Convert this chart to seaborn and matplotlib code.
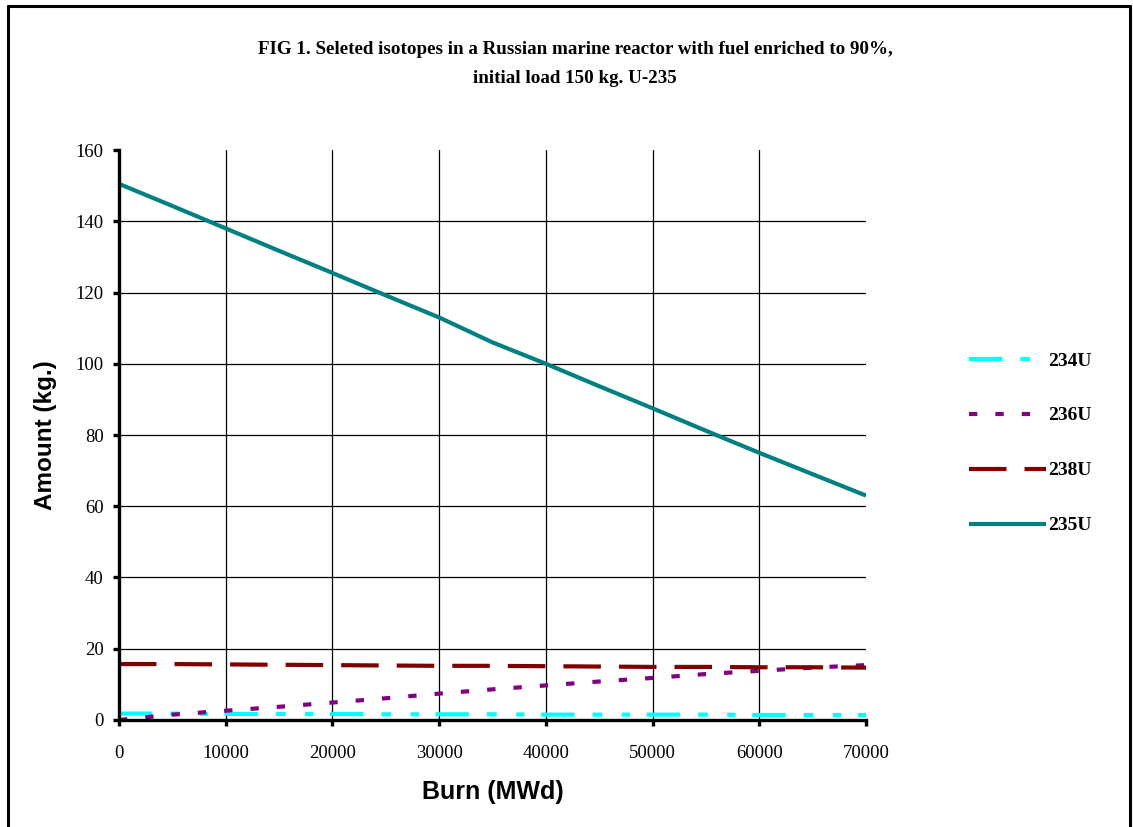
import matplotlib
matplotlib.use('Agg')
import matplotlib.pyplot as plt
from matplotlib.lines import Line2D
import pandas as pd
import seaborn as sns

# burn-up steps (MWd) and isotope amounts (kg)
burn = [0, 5000, 10000, 15000, 20000, 25000, 30000, 35000,
        40000, 45000, 50000, 55000, 60000, 65000, 70000]
u234 = [1.8, 1.8, 1.7, 1.7, 1.7, 1.6, 1.6, 1.6, 1.5, 1.5, 1.5, 1.5, 1.4, 1.4, 1.4]
u236 = [0, 1.5, 2.6, 3.7, 4.9, 6.1, 7.4, 8.6, 9.7, 10.8, 11.8, 12.9, 13.8, 14.7, 15.4]
u238 = [15.7, 15.7, 15.6, 15.5, 15.4, 15.3, 15.2, 15.2, 15.1, 15.0, 14.9, 14.9, 14.8, 14.8, 14.7]
u235 = [150.5, 144.3, 138.0, 131.7, 125.5, 119.2, 113.0, 106.0,
        100.0, 93.7, 87.5, 81.2, 75.0, 69.0, 63.0]

labels = ['234U', '236U', '238U', '235U']
colors = ['#00FFFF', '#800080', '#800000', '#008080']
dashes = [(24, 13, 7, 14, 6, 12), (6, 13), (27, 13), None]

df = pd.DataFrame({'burn': burn, '234U': u234, '236U': u236, '238U': u238, '235U': u235})
long = df.melt(id_vars='burn', var_name='isotope', value_name='amount')

sns.set_style('white')
plt.rcParams['lines.scale_dashes'] = False
for k in ['text.color', 'axes.labelcolor', 'xtick.color', 'ytick.color']:
    plt.rcParams[k] = 'black'
serif = 'Liberation Serif'
sans = 'Liberation Sans'

fig = plt.figure(figsize=(11.33, 8.27), dpi=100)
ax = fig.add_axes([0.105, 0.1294, 0.6593, 0.6892])

for lab, col, dsh in zip(labels, colors, dashes):
    sub = long[long['isotope'] == lab]
    sns.lineplot(data=sub, x='burn', y='amount', ax=ax, color=col, lw=3,
                 label=lab, estimator=None, sort=False)
    line = ax.get_lines()[-1]
    if dsh is not None:
        line.set_dashes(dsh)
    line.set_solid_capstyle('butt')
    line.set_dash_capstyle('butt')

ax.set_xlim(0, 70000)
ax.set_ylim(0, 160)
ax.set_xticks(range(0, 70001, 10000))
ax.set_yticks(range(0, 161, 20))
ax.grid(True, color='black', lw=0.9)
ax.set_axisbelow(True)
# no grid line on the top and right border of the plot area
ax.yaxis.get_gridlines()[-1].set_visible(False)
ax.xaxis.get_gridlines()[-1].set_visible(False)

for s in ['top', 'right']:
    ax.spines[s].set_visible(False)
for s in ['left', 'bottom']:
    ax.spines[s].set_linewidth(2.4)
    ax.spines[s].set_color('black')

ax.tick_params(axis='y', direction='out', length=4, width=2.4, pad=7, left=True,
               colors='black')
ax.tick_params(axis='x', direction='out', length=4, width=2.4, pad=14, bottom=True,
               colors='black')
for t in ax.get_xticklabels() + ax.get_yticklabels():
    t.set_fontfamily(serif)
    t.set_fontsize(13.5)

ax.set_xlabel('Burn (MWd)', fontfamily=sans, fontweight='bold', fontsize=18, color='black')
ax.set_ylabel('Amount (kg.)', fontfamily=sans, fontweight='bold', fontsize=17.5, color='black')
ax.xaxis.set_label_coords(0.5, -0.106)
ax.yaxis.set_label_coords(-0.083, 0.5)

leg = ax.legend(loc='upper left', bbox_to_anchor=(1.114, 0.6765), frameon=False,
                handlelength=4.0, handletextpad=0.1, labelspacing=1.92,
                prop={'family': serif, 'weight': 'bold', 'size': 14})
for h in leg.get_lines():
    h.set_linewidth(3)
for t in leg.get_texts():
    t.set_color('black')

fig.text(0.5075, 1 - 64 / 827,
         'FIG 1. Seleted isotopes in a Russian marine reactor with fuel enriched to 90%,\n'
         'initial load 150 kg. U-235',
         ha='center', va='center', fontfamily=serif, fontweight='bold',
         fontsize=13.7, linespacing=1.95, color='black')

# page frame (open at the bottom)
fw = 2.2
fig.add_artist(Line2D([8 / 1133, 8 / 1133], [0, 1 - 6 / 827], color='black', lw=fw,
                      transform=fig.transFigure))
fig.add_artist(Line2D([8 / 1133, 1130 / 1133], [1 - 6 / 827, 1 - 6 / 827], color='black',
                      lw=fw, transform=fig.transFigure))
fig.add_artist(Line2D([1130 / 1133, 1130 / 1133], [0, 1 - 6 / 827], color='black', lw=fw,
                      transform=fig.transFigure))

fig.savefig('out.png', dpi=100)
